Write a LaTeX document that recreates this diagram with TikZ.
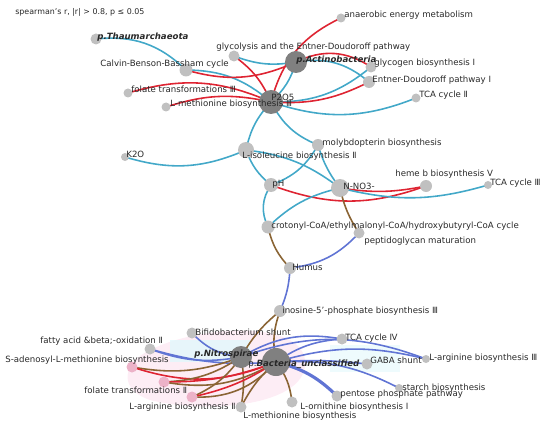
\documentclass[tikz,border=0pt]{standalone}
\usepackage{fontspec}
\setmainfont{DejaVu Sans}
\usepackage{tikz}
\usetikzlibrary{backgrounds}
\pgfdeclarelayer{foreground}
\pgfsetlayers{background,main,foreground}
\definecolor{Neg}{RGB}{66,168,200}
\definecolor{Pos}{RGB}{222,36,50}
\definecolor{Brn}{RGB}{138,100,52}
\definecolor{Prp}{RGB}{96,116,212}
\definecolor{Dot}{RGB}{192,192,192}
\definecolor{Hub}{RGB}{128,128,128}
\definecolor{Pnk}{RGB}{236,178,200}
\definecolor{HullP}{RGB}{253,232,243}
\definecolor{HullC}{RGB}{226,248,252}
\definecolor{Txt}{RGB}{40,40,40}
\newcommand{\vtx}[5]{\node[#1] (#2) at (#3) {};
  \begin{pgfonlayer}{foreground}\node[lab] (#2-t) at (#4) {#5};\end{pgfonlayer}}
\newcommand{\drawedge}{\draw[line width=0.9pt]}
\tikzset{
  dot/.style={circle,fill=Dot,inner sep=0,minimum size=#1},
  dot/.default=11*0.02cm,
  hub/.style={circle,fill=Hub,inner sep=0,minimum size=#1},
  pnk/.style={circle,fill=Pnk,inner sep=0,minimum size=11*0.02cm},
  lab/.style={anchor=base west,inner sep=0,text=Txt,font=\fontsize{4.9}{5.7}\selectfont}
}
\begin{document}
\begin{tikzpicture}[x=0.02cm,y=-0.02cm]
\useasboundingbox (0,0) rectangle (550,422);
\node[lab,font=\fontsize{4.5}{5.5}\selectfont] (title) at (15,15) {spearman's r, |r| > 0.8, p ≤ 0.05};
% upper part
\vtx{dot}{thau}{96,39}{97,40}{\bfseries\itshape p.Thaumarchaeota}
\vtx{dot}{glyc}{234,56}{216,50}{glycolysis and the Entner-Doudoroff pathway}
\vtx{dot=13*0.02cm}{calv}{186,70}{100,67}{Calvin-Benson-Bassham cycle}
\vtx{hub=22*0.02cm}{acti}{296,62}{296,63}{\bfseries\itshape p.Actinobacteria}
\vtx{dot=9*0.02cm}{anae}{341,18}{344,18}{anaerobic energy metabolism}
\vtx{dot}{glgn}{371,67}{374,66}{glycogen biosynthesis Ⅰ}
\vtx{dot=12*0.02cm}{entn}{369,82}{372,83}{Entner-Doudoroff pathway Ⅰ}
\vtx{dot=9*0.02cm}{tcab}{416,98}{419,98}{TCA cycle Ⅱ}
\vtx{dot=9*0.02cm}{folc}{128,93}{131,93}{folate transformations Ⅲ}
\vtx{dot=9*0.02cm}{lmtc}{166,107}{170,107}{L-methionine biosynthesis Ⅲ}
\vtx{hub=24*0.02cm}{ptwo}{271,102}{271,101}{P2O5}
% soil parameters
\vtx{dot=8*0.02cm}{ktwo}{125,157}{126,157}{K2O}
\vtx{dot=16*0.02cm}{ileu}{246,150}{242,158}{L-isoleucine biosynthesis Ⅱ}
\vtx{dot=12*0.02cm}{moly}{318,145}{322,146}{molybdopterin biosynthesis}
\vtx{dot=14*0.02cm}{ph}{271,185}{272,186}{pH}
\vtx{dot=18*0.02cm}{nno}{340,188}{343,189}{N-NO3-}
\vtx{dot=12*0.02cm}{heme}{426,186}{395,176}{heme b biosynthesis V}
\vtx{dot=8*0.02cm}{tcac}{488,185}{490,185}{TCA cycle Ⅲ}
\vtx{dot=13*0.02cm}{crot}{268,227}{271,228}{crotonyl-CoA/ethylmalonyl-CoA/hydroxybutyryl-CoA cycle}
\vtx{dot}{pept}{359,233}{364,243}{peptidoglycan maturation}
\vtx{dot=12*0.02cm}{humu}{290,268}{292,270}{Humus}
% lower part
\vtx{dot=12*0.02cm}{inos}{280,311}{282,313}{inosine-5'-phosphate biosynthesis Ⅲ}
\vtx{dot}{bifi}{192,333}{195,335}{Bifidobacterium shunt}
\vtx{dot}{fatt}{150,349}{40,343}{fatty acid \&beta;-oxidation Ⅱ}
\vtx{dot}{tcad}{342,339}{345,340}{TCA cycle Ⅳ}
\vtx{pnk}{sadm}{132,367}{5,362}{S-adenosyl-L-methionine biosynthesis}
\vtx{hub=22*0.02cm}{nitr}{241,357}{194,356}{\bfseries\itshape p.Nitrospirae}
\vtx{hub=28*0.02cm}{bact}{276,362}{248,366}{p.\textbf{\itshape Bacteria\_unclassified}}
\vtx{dot}{gaba}{367,364}{370,363}{GABA shunt}
\vtx{dot=8*0.02cm}{argc}{426,359}{429,360}{L-arginine biosynthesis Ⅲ}
\vtx{dot=8*0.02cm}{star}{399,388}{402,390}{starch biosynthesis}
\vtx{pnk}{folb}{164,382}{84,393}{folate transformations Ⅱ}
\vtx{dot}{pent}{337,396}{340,396}{pentose phosphate pathway}
\vtx{pnk}{argb}{192,397}{129,409}{L-arginine biosynthesis Ⅱ}
\vtx{dot}{lorn}{292,402}{300,409}{L-ornithine biosynthesis Ⅰ}
\vtx{dot}{lmet}{241,407}{243,418}{L-methionine biosynthesis}
\begin{pgfonlayer}{background}
\fill[HullP,opacity=0.8] (150,350) .. controls (200,325) and (300,320) .. (305,360) .. controls (310,405) and (210,415) .. (150,400) .. controls (120,390) and (120,365) .. cycle;
\fill[HullC,opacity=0.8] (170,340) rectangle (250,362);
\fill[HullC,opacity=0.6] (330,345) rectangle (400,372);
\drawedge[Neg] (thau.center) to[bend left=25] (calv.center);
\drawedge[Neg] (calv.center) to[bend left=20] (ptwo.center);
\drawedge[Pos] (calv.center) to[bend right=20] (acti.center);
\drawedge[Pos] (glyc.center) to[bend left=15] (ptwo.center);
\drawedge[Neg] (glyc.center) to[bend right=15] (acti.center);
\drawedge[Pos] (anae.center) to[bend right=25] (ptwo.center);
\drawedge[Pos] (acti.center) to[bend left=30] (glgn.center);
\drawedge[Neg] (acti.center) to[bend left=25] (entn.center);
\drawedge[Neg] (ptwo.center) to[bend right=20] (glgn.center);
\drawedge[Pos] (ptwo.center) to[bend right=15] (entn.center);
\drawedge[Neg] (ptwo.center) to[bend right=20] (tcab.center);
\drawedge[Pos] (folc.center) to[bend left=20] (ptwo.center);
\drawedge[Pos] (lmtc.center) to[bend left=15] (ptwo.center);
\drawedge[Neg] (acti.center) to[bend left=15] (ptwo.center);
\drawedge[Neg] (ptwo.center) to[bend right=15] (ileu.center);
\drawedge[Neg] (ptwo.center) to[bend right=20] (moly.center);
\drawedge[Neg] (moly.center) to[bend right=10] (nno.center);
\drawedge[Neg] (ktwo.center) to[bend right=20] (ileu.center);
\drawedge[Neg] (ileu.center) to[bend right=15] (ph.center);
\drawedge[Neg] (ileu.center) to[bend left=15] (nno.center);
\drawedge[Neg] (moly.center) to[bend left=20] (ph.center);
\drawedge[Pos] (ph.center) to[bend right=20] (heme.center);
\drawedge[Pos] (nno.center) to[bend right=10] (heme.center);
\drawedge[Neg] (nno.center) to[bend right=15] (tcac.center);
\drawedge[Neg] (ph.center) to[bend right=30] (crot.center);
\drawedge[Neg] (nno.center) to[bend right=15] (crot.center);
\drawedge[Brn] (nno.center) to[bend right=10] (pept.center);
\drawedge[Brn] (crot.center) to[bend right=15] (humu.center);
\drawedge[Prp] (pept.center) to[bend left=20] (humu.center);
\drawedge[Prp] (humu.center) to[bend left=10] (inos.center);
\drawedge[Brn] (inos.center) to[bend right=10] (nitr.center);
\drawedge[Brn] (inos.center) to[bend right=15] (bact.center);
\drawedge[Prp] (bifi.center) to[bend right=20] (nitr.center);
\drawedge[Prp] (fatt.center) to[bend right=15] (nitr.center);
\drawedge[Prp] (fatt.center) to[bend right=10] (bact.center);
\drawedge[Prp] (nitr.center) to[bend left=20] (tcad.center);
\drawedge[Prp] (bact.center) to[bend left=15] (tcad.center);
\drawedge[Prp] (nitr.center) to[bend left=20] (argc.center);
\drawedge[Prp] (bact.center) to[bend left=15] (argc.center);
\drawedge[Prp] (bact.center) to[bend left=5] (gaba.center);
\drawedge[Prp] (bact.center) to[bend left=15] (star.center);
\drawedge[Prp,line width=1.8pt] (bact.center) to[bend left=15] (pent.center);
\drawedge[Brn] (bact.center) to[bend left=15] (lorn.center);
\drawedge[Brn] (bact.center) to[bend right=10] (lmet.center);
\drawedge[Brn] (nitr.center) to[bend left=10] (lmet.center);
\drawedge[Brn] (sadm.center) to[bend right=15] (nitr.center);
\drawedge[Pos] (sadm.center) to[bend right=20] (bact.center);
\drawedge[Brn] (folb.center) to[bend right=15] (nitr.center);
\drawedge[Pos] (folb.center) to[bend right=10] (bact.center);
\drawedge[Brn] (folb.center) to[bend right=20] (bact.center);
\drawedge[Brn] (argb.center) to[bend right=15] (nitr.center);
\drawedge[Pos] (argb.center) to[bend right=10] (bact.center);
\drawedge[Brn] (argb.center) to[bend right=25] (bact.center);
\end{pgfonlayer}
\end{tikzpicture}
\end{document}
